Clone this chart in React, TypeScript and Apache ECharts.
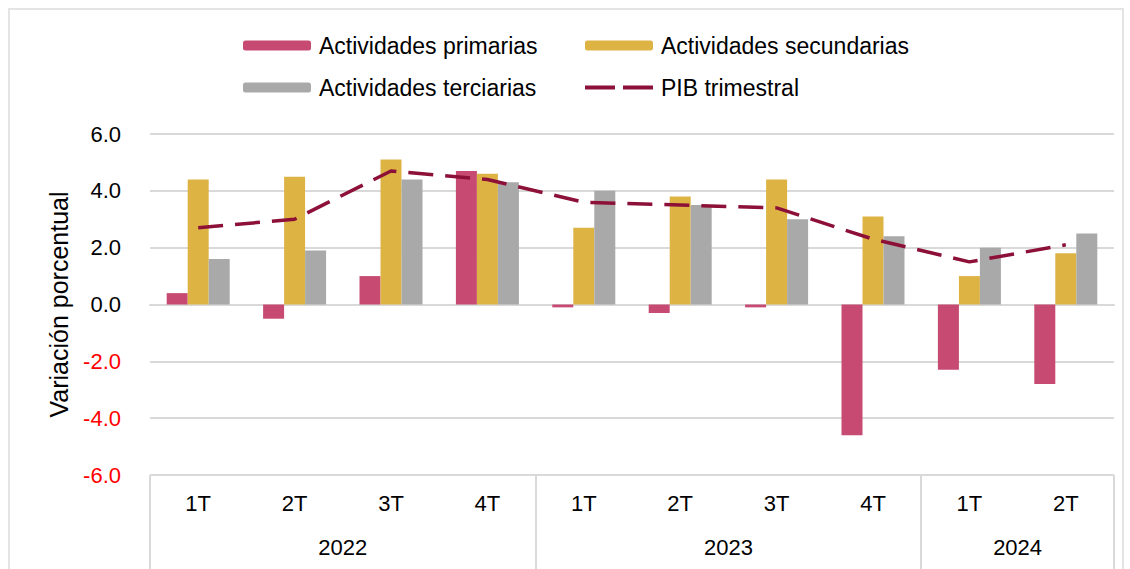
import React, { useEffect, useRef } from "react";
import * as echarts from "echarts";

const quarters = ["1T", "2T", "3T", "4T", "1T", "2T", "3T", "4T", "1T", "2T"];
const years = ["2022", "2023", "2024"];
const quartersPerYear = [4, 4, 2];
const primarias = [0.4, -0.5, 1.0, 4.7, -0.1, -0.3, -0.1, -4.6, -2.3, -2.8];
const secundarias = [4.4, 4.5, 5.1, 4.6, 2.7, 3.8, 4.4, 3.1, 1.0, 1.8];
const terciarias = [1.6, 1.9, 4.4, 4.3, 4.0, 3.5, 3.0, 2.4, 2.0, 2.5];
const pib = [2.7, 3.0, 4.7, 4.4, 3.6, 3.5, 3.4, 2.3, 1.5, 2.1];

const names = ["Actividades primarias", "Actividades secundarias", "Actividades terciarias", "PIB trimestral"];
const colors = ["#C64A72", "#DDB343", "#A9A9A9", "#8C1038"];
const FONT = "'Liberation Sans', Arial, sans-serif";

export default function App() {
  const ref = useRef<HTMLDivElement>(null);
  useEffect(() => {
    if (!ref.current) return;
    const chart = echarts.init(ref.current, undefined, { renderer: "svg" });

    // year boundaries and centers derived from group counts
    const bounds: number[] = [0];
    quartersPerYear.forEach((n) => bounds.push(bounds[bounds.length - 1] + n));
    const centers = quartersPerYear.map((n, i) => bounds[i] + n / 2);

    const legendBase = {
      itemWidth: 68,
      itemHeight: 10,
      textStyle: { fontSize: 23, color: "#000", fontFamily: FONT, padding: [0, 0, 0, 3] },
      selectedMode: false,
    };

    chart.setOption({
      animation: false,
      textStyle: { fontFamily: FONT },
      graphic: [
        {
          type: "rect",
          silent: true,
          shape: { x: 9, y: 9, width: 1114, height: 600 },
          style: { fill: "none", stroke: "#E4E4E4", lineWidth: 2 },
        },
      ],
      legend: [
        { ...legendBase, left: 238, top: 29, data: [names[0]] },
        { ...legendBase, left: 580, top: 29, data: [names[1]] },
        { ...legendBase, left: 238, top: 71, data: [names[2]] },
        {
          ...legendBase,
          left: 580,
          top: 71,
          symbolKeepAspect: true,
          data: [
            {
              name: names[3],
              icon: "path://M0,0H30V4H0Z M38,0H68V4H38Z",
              itemStyle: { color: colors[3] },
            },
          ],
        },
      ],
      grid: { left: 150, right: 16, top: 134, bottom: 94, containLabel: false },
      xAxis: [
        {
          type: "category",
          data: quarters,
          position: "bottom",
          axisLine: { show: true, lineStyle: { color: "#D9D9D9", width: 2 } },
          axisTick: { show: false },
          axisLabel: { fontSize: 22, color: "#000", margin: 17, fontFamily: FONT },
        },
        {
          type: "value",
          min: 0,
          max: quarters.length,
          position: "bottom",
          axisLine: { show: false },
          splitLine: { show: false },
          axisTick: {
            show: true,
            customValues: bounds,
            length: 96,
            lineStyle: { color: "#D9D9D9", width: 2 },
          },
          axisLabel: {
            customValues: centers,
            fontSize: 22,
            color: "#000",
            margin: 61,
            fontFamily: FONT,
            formatter: (v: number) => {
              const i = centers.indexOf(v);
              return i >= 0 ? years[i] : "";
            },
          },
        },
      ],
      yAxis: {
        type: "value",
        min: -6,
        max: 6,
        interval: 2,
        name: "Variación porcentual",
        nameLocation: "middle",
        nameRotate: 90,
        nameGap: 79,
        nameTextStyle: { fontSize: 25, color: "#000", fontFamily: FONT },
        axisLine: { show: false },
        axisTick: { show: false },
        axisLabel: {
          fontSize: 22,
          margin: 29,
          fontFamily: FONT,
          formatter: (v: number) => v.toFixed(1),
          color: (v: any) => (Number(v) < 0 ? "#FF0000" : "#000000"),
        },
        splitLine: { show: true, lineStyle: { color: "#D9D9D9", width: 2 } },
      },
      series: [
        { name: names[0], type: "bar", data: primarias, barWidth: 21, barGap: "0%", itemStyle: { color: colors[0] } },
        { name: names[1], type: "bar", data: secundarias, barWidth: 21, barGap: "0%", itemStyle: { color: colors[1] } },
        { name: names[2], type: "bar", data: terciarias, barWidth: 21, barGap: "0%", itemStyle: { color: colors[2] } },
        {
          name: names[3],
          type: "line",
          data: pib,
          symbol: "none",
          z: 5,
          itemStyle: { color: colors[3] },
          lineStyle: { color: colors[3], width: 3.5, type: [25, 12] },
        },
      ],
    });
    return () => chart.dispose();
  }, []);
  return (
    <div
      ref={ref}
      style={{ position: "absolute", left: 0, top: 0, width: 1130, height: 569, background: "#fff" }}
    />
  );
}
